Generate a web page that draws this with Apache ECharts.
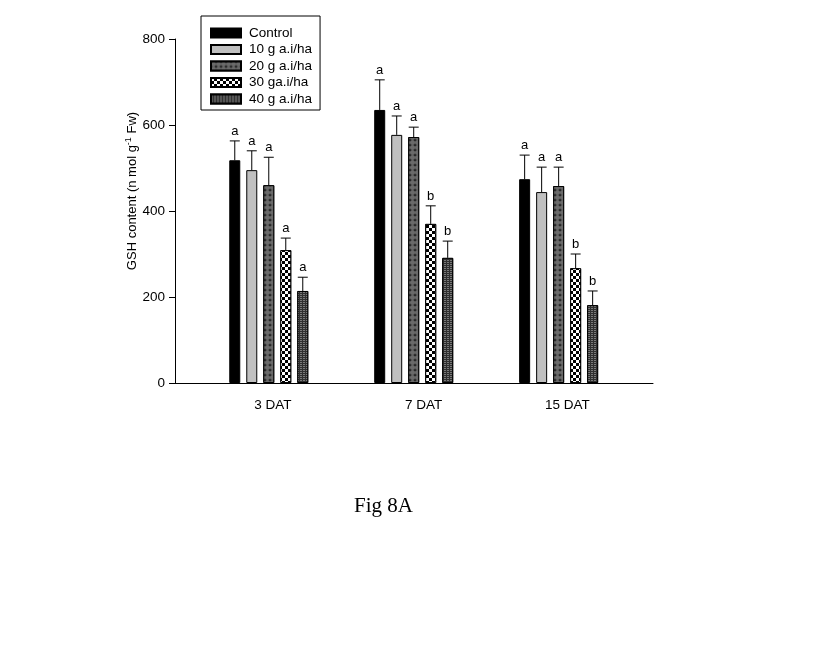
<!doctype html>
<html lang="en">
<head>
<meta charset="UTF-8">
<title>Fig 8A</title>
<style>
    html, body { margin: 0; padding: 0; background: #fff; }
    #chart { width: 823px; height: 647px; }
</style>
</head>
<body>
<div id="chart"></div>
<script src="https://cdn.jsdelivr.net/npm/echarts@6/dist/echarts.min.js"></script>
<script>
    // categories (x positions 1, 2, 3) and their labels
    var days = ['3 DAT', '7 DAT', '15 DAT'];
    var dayPos = [1, 2, 3];
    var labelPos = [1.028, 2.069, 3.061];
    var treatments = ['Control', '10 g a.i/ha', '20 g a.i/ha', '30 ga.i/ha', '40 g a.i/ha'];

    // GSH means and error (upper whisker) per treatment, one value per day
    var control = [518, 635, 474];
    var g10 = [495, 577, 444];
    var g20 = [460, 572, 458];
    var g30 = [309, 370, 267];
    var g40 = [214, 291, 181];

    var errControl = [45, 70, 56];
    var errG10 = [45, 44, 58];
    var errG20 = [65, 23, 44];
    var errG30 = [28, 42, 33];
    var errG40 = [32, 39, 33];

    var letters = [
        ['a', 'a', 'a'],
        ['a', 'a', 'a'],
        ['a', 'a', 'a'],
        ['a', 'b', 'b'],
        ['a', 'b', 'b']
    ];

    var yTicks = [0, 200, 400, 600, 800];

    var means = [control, g10, g20, g30, g40];
    var errs = [errControl, errG10, errG20, errG30, errG40];

    var barW = 11;
    var gapPx = 6;
    var sans = '"Liberation Sans", Arial, sans-serif';

    var styles = [
        { color: '#000000' },
        { color: '#c0c0c0' },
        { color: '#555555', decal: { symbol: 'circle', symbolSize: 1, color: '#6a6a6a', backgroundColor: '#1c1c1c',
                dashArrayX: [[5, 0]], dashArrayY: [5, 0] } },
        { color: '#ffffff', decal: { symbol: 'rect', symbolSize: 1, color: '#000000', backgroundColor: '#ffffff',
                dashArrayX: [[3, 3], [0, 3, 3, 0]], dashArrayY: [3, 0] } },
        { color: '#444444', decal: { symbol: 'rect', symbolSize: 1, color: '#7a7a7a', backgroundColor: '#303030',
                dashArrayX: [2, 1], dashArrayY: [1, 1] } }
    ];

    var chart = echarts.init(document.getElementById('chart'));

    var series = [];
    for (var i = 0; i < treatments.length; i++) {
        var data = [];
        for (var j = 0; j < days.length; j++) {
            data.push([dayPos[j], means[i][j]]);
        }
        var itemStyle = { color: styles[i].color, borderColor: '#000', borderWidth: 1 };
        if (styles[i].decal) itemStyle.decal = styles[i].decal;
        series.push({
            name: treatments[i],
            type: 'bar',
            barWidth: barW,
            barGap: (gapPx / barW * 100) + '%',
            itemStyle: itemStyle,
            data: data,
            silent: true
        });
    }

    // error bars + significance letters
    for (var i = 0; i < treatments.length; i++) {
        var edata = [];
        for (var j = 0; j < days.length; j++) {
            edata.push([dayPos[j], means[i][j], means[i][j] + errs[i][j]]);
        }
        (function (k) {
            series.push({
                type: 'custom',
                data: edata,
                clip: false,
                z: 5,
                silent: true,
                encode: { x: 0, y: [1, 2] },
                renderItem: function (params, api) {
                    var off = (k - (treatments.length - 1) / 2) * (barW + gapPx);
                    var p0 = api.coord([api.value(0), api.value(1)]);
                    var p1 = api.coord([api.value(0), api.value(2)]);
                    var x = p0[0] + off;
                    return {
                        type: 'group',
                        children: [
                            { type: 'line', shape: { x1: x, y1: p0[1], x2: x, y2: p1[1] },
                              style: { stroke: '#000', lineWidth: 1 } },
                            { type: 'line', shape: { x1: x - 5, y1: p1[1], x2: x + 5, y2: p1[1] },
                              style: { stroke: '#000', lineWidth: 1 } },
                            { type: 'text', x: x, y: p1[1] - 3,
                              style: { text: letters[k][params.dataIndex], fill: '#000',
                                  font: '13px ' + sans,
                                  align: 'center', verticalAlign: 'bottom' } }
                        ]
                    };
                }
            });
        })(i);
    }

    var option = {
        animation: false,
        backgroundColor: '#fff',
        title: {
            text: 'Fig 8A',
            left: 349,
            top: 491,
            textStyle: { fontFamily: '"Liberation Serif", "Times New Roman", serif', fontWeight: 'normal', fontSize: 21, color: '#000' }
        },
        legend: {
            data: treatments,
            orient: 'vertical',
            icon: 'rect',
            left: 201,
            top: 16,
            padding: [10, 8, 4, 9],
            itemWidth: 30,
            itemHeight: 9,
            itemGap: 2.5,
            backgroundColor: '#fff',
            borderColor: '#000',
            borderWidth: 1,
            borderRadius: 0,
            selectedMode: false,
            textStyle: { fontFamily: sans, fontSize: 13.5, color: '#000',
                lineHeight: 14, padding: [0, 0, 0, 3] }
        },
        grid: { left: 175, right: 170, top: 39, bottom: 264, containLabel: false },
        xAxis: {
            type: 'value',
            min: 0.353,
            max: 3.651,
            splitLine: { show: false },
            axisLine: { show: true, lineStyle: { color: '#000', width: 1 } },
            axisTick: { show: false },
            axisLabel: {
                customValues: labelPos,
                margin: 15,
                color: '#000',
                fontFamily: sans,
                fontSize: 13.5,
                formatter: function (v) {
                    for (var i = 0; i < labelPos.length; i++) {
                        if (Math.abs(v - labelPos[i]) < 0.01) return days[i];
                    }
                    return '';
                }
            }
        },
        yAxis: {
            type: 'value',
            min: 0,
            max: 800,
            interval: 200,
            name: 'GSH content (n mol g{sup|-1} Fw)',
            nameLocation: 'middle',
            nameGap: 35,
            nameMoveOverlap: false,
            nameRotate: 90,
            nameTextStyle: {
                color: '#000',
                fontFamily: sans,
                fontSize: 13,
                padding: [0, 0, 0, 40],
                rich: { sup: { fontSize: 9, verticalAlign: 'top', padding: [0, 0, 7, 0],
                    fontFamily: sans, color: '#000' } }
            },
            splitLine: { show: false },
            axisLine: { show: true, lineStyle: { color: '#000', width: 1 } },
            axisTick: { show: true, inside: false, length: 6, customValues: yTicks, lineStyle: { color: '#000' } },
            axisLabel: { margin: 10, color: '#000', fontFamily: sans, fontSize: 13.5 }
        },
        series: series
    };

    chart.setOption(option);
</script>
</body>
</html>
